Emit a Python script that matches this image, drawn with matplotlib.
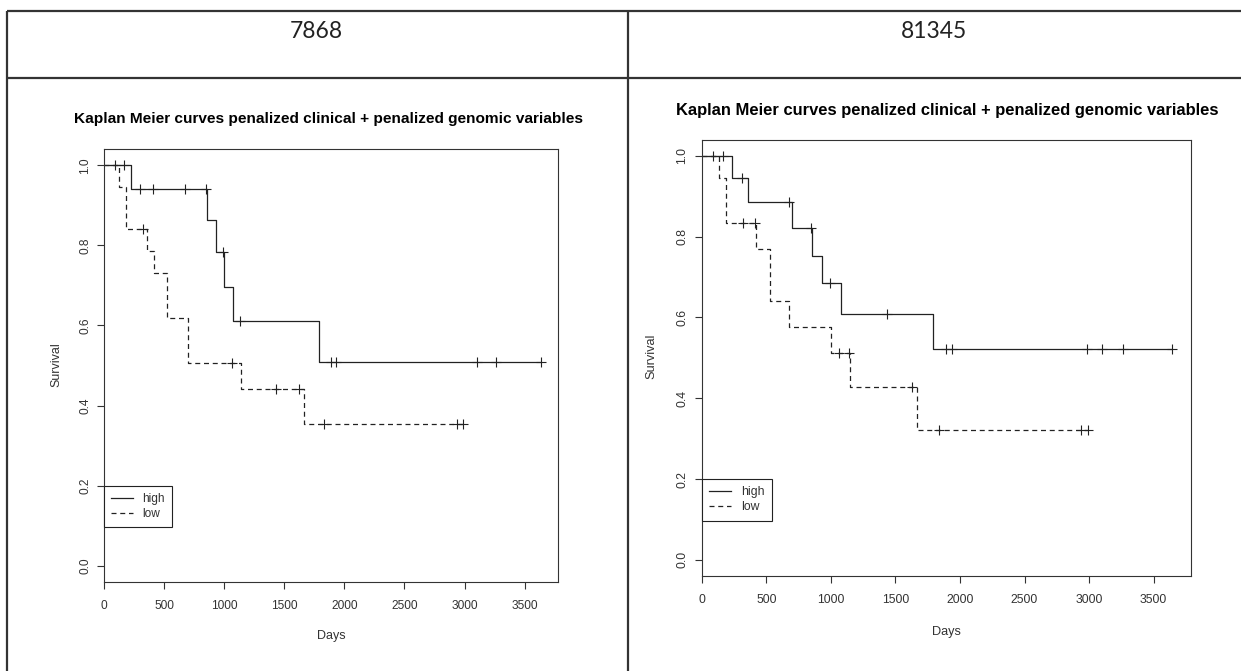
import numpy as np
import matplotlib.pyplot as plt

# figure is a two column table, one Kaplan Meier plot per column
W, H = 1241, 671

headers = ["7868", "81345"]
title = "Kaplan Meier curves penalized clinical + penalized genomic variables"
x_ticks = [0, 500, 1000, 1500, 2000, 2500, 3000, 3500]
y_ticks = [0.0, 0.2, 0.4, 0.6, 0.8, 1.0]

# left panel (7868): step times / survival levels / censoring times (days)
l_high_t = [0, 222, 857, 931, 993, 1073, 1789]
l_high_s = [1.0, 0.941, 0.863, 0.784, 0.697, 0.610, 0.508]
l_high_c = [86, 160, 299, 404, 672, 851, 987, 1132, 1887, 1928, 3103, 3263, 3633]
l_low_t = [0, 126, 179, 355, 413, 524, 694, 1141, 1659]
l_low_s = [1.0, 0.947, 0.842, 0.786, 0.730, 0.618, 0.505, 0.442, 0.354]
l_low_c = [321, 1064, 1428, 1622, 1832, 2935, 2985]

# right panel (81345)
r_high_t = [0, 232, 360, 701, 856, 935, 1082, 1792]
r_high_s = [1.0, 0.944, 0.885, 0.822, 0.753, 0.685, 0.609, 0.522]
r_high_c = [88, 165, 311, 676, 844, 990, 1435, 1889, 1935, 2986, 3099, 3260, 3641]
r_low_t = [0, 137, 192, 417, 530, 679, 1005, 1146, 1664]
r_low_s = [1.0, 0.944, 0.833, 0.769, 0.641, 0.577, 0.513, 0.427, 0.321]
r_low_c = [317, 411, 1066, 1140, 1630, 1840, 2940, 2992]

plt.rcParams['font.family'] = ['Liberation Sans', 'DejaVu Sans']
LINE = '#222222'
GRID = '#333333'


def box(l, t, r, b):
    return [l / W, 1 - b / H, (r - l) / W, (b - t) / H]


def km_curve(ax, t, s, c, ls):
    end = max(max(c), t[-1])
    ln, = ax.step(list(t) + [end], list(s) + [s[-1]], where='post', color=LINE,
                  lw=0.9, linestyle=ls)
    idx = np.searchsorted(t, c, side='right') - 1
    ax.plot(c, np.array(s)[idx], linestyle='none', marker='+', ms=6.5,
            mew=0.8, color=LINE)
    return ln


def panel(ax, high, low, fs_tick):
    h1 = km_curve(ax, *high, '-')
    h2 = km_curve(ax, *low, (0, (4, 3)))
    tmax = max(max(high[2]), max(low[2]))
    ax.set_xlim(0, tmax * 1.04)
    ax.set_ylim(-0.04, 1.04)
    ax.set_xticks(x_ticks)
    ax.set_yticks(y_ticks)
    ax.set_yticklabels(["%.1f" % v for v in y_ticks], rotation=90, va='center')
    ax.tick_params(direction='out', length=5, width=0.8, color=GRID,
                   labelsize=fs_tick, labelcolor='#333333')
    ax.tick_params(axis='x', pad=8)
    ax.tick_params(axis='y', pad=4.5)
    for sp in ax.spines.values():
        sp.set_color(GRID)
        sp.set_linewidth(0.8)
    leg = ax.legend([h1, h2], ['high', 'low'], loc='upper left',
                    bbox_to_anchor=(0, (0.2 + 0.04) / 1.08), borderaxespad=0,
                    fancybox=False, edgecolor='#222222', fontsize=fs_tick,
                    handlelength=1.8, handletextpad=0.8, labelspacing=0.25,
                    borderpad=0.6, framealpha=1)
    leg.get_frame().set_linewidth(0.8)
    for txt in leg.get_texts():
        txt.set_color('#333333')


fig = plt.figure(figsize=(W / 100, H / 100), dpi=100)

# table grid drawn in pixel coordinates
bg = fig.add_axes([0, 0, 1, 1])
bg.set_xlim(0, W)
bg.set_ylim(H, 0)
bg.axis('off')
for xs, ys in [([7, W], [11, 11]), ([7, W], [78, 78]),
               ([7, 7], [11, H]), ([628, 628], [11, H])]:
    bg.plot(xs, ys, color='#333333', lw=1.6, solid_capstyle='butt')
bg.text(316, 31, headers[0], ha='center', va='center', fontsize=16.5,
        family=['Lato', 'DejaVu Sans'], color='#222222')
bg.text(934, 31, headers[1], ha='center', va='center', fontsize=16.5,
        family=['Lato', 'DejaVu Sans'], color='#222222')

ax1 = fig.add_axes(box(104.3, 149.3, 558, 581.7))
panel(ax1, (l_high_t, l_high_s, l_high_c), (l_low_t, l_low_s, l_low_c), 8.6)
bg.text(328.5, 119.3, title, ha='center', va='center', fontsize=11.1,
        fontweight='bold', color='black')
bg.text(56.7, 365, 'Survival', ha='center', va='center', rotation=90,
        fontsize=9, color='#333333')
bg.text(331.5, 636, 'Days', ha='center', va='center', fontsize=9,
        color='#333333')

ax2 = fig.add_axes(box(701.7, 139.7, 1190.7, 576))
panel(ax2, (r_high_t, r_high_s, r_high_c), (r_low_t, r_low_s, r_low_c), 8.8)
bg.text(947.5, 110, title, ha='center', va='center', fontsize=11.9,
        fontweight='bold', color='black')
bg.text(651.7, 356.7, 'Survival', ha='center', va='center', rotation=90,
        fontsize=9.2, color='#333333')
bg.text(946, 631.7, 'Days', ha='center', va='center', fontsize=9.2,
        color='#333333')

fig.savefig('out.png', dpi=100)
